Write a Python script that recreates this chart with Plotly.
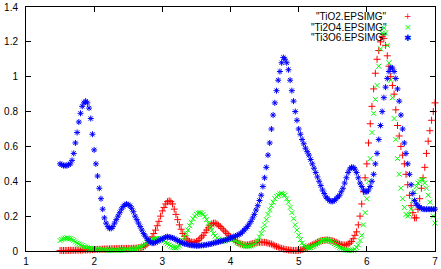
import numpy as np
import plotly.graph_objects as go

# energy grid (eV), step 0.025 from 1.5 to 7.0
x_start = 1.5
x_step = 0.025

tio2 = [
    0.003, 0.003, 0.003, 0.003, 0.003, 0.004, 0.004, 0.004, 0.004, 0.004,
    0.005, 0.005, 0.005, 0.005, 0.006, 0.006, 0.006, 0.007, 0.007, 0.008,
    0.008, 0.009, 0.009, 0.01, 0.01, 0.011, 0.011, 0.012, 0.012, 0.012,
    0.013, 0.013, 0.013, 0.014, 0.014, 0.014, 0.015, 0.015, 0.015, 0.015,
    0.015, 0.015, 0.015, 0.016, 0.016, 0.017, 0.018, 0.019, 0.02, 0.024,
    0.03, 0.04, 0.05, 0.065, 0.08, 0.10, 0.12, 0.145, 0.17, 0.20,
    0.23, 0.25, 0.27, 0.283, 0.288, 0.283, 0.27, 0.24, 0.21, 0.18,
    0.15, 0.125, 0.10, 0.085, 0.07, 0.062, 0.055, 0.052, 0.05, 0.05,
    0.055, 0.06, 0.07, 0.08, 0.09, 0.105, 0.12, 0.133, 0.145, 0.155,
    0.16, 0.16, 0.155, 0.148, 0.14, 0.13, 0.12, 0.11, 0.10, 0.09,
    0.08, 0.072, 0.065, 0.057, 0.05, 0.045, 0.04, 0.037, 0.035, 0.035,
    0.035, 0.037, 0.04, 0.042, 0.045, 0.047, 0.05, 0.05, 0.05, 0.05,
    0.05, 0.048, 0.045, 0.042, 0.04, 0.035, 0.03, 0.026, 0.022, 0.018,
    0.015, 0.012, 0.01, 0.008, 0.006, 0.005, 0.004, 0.003, 0.003, 0.003,
    0.004, 0.006, 0.008, 0.011, 0.015, 0.02, 0.025, 0.03, 0.035, 0.04,
    0.045, 0.05, 0.055, 0.058, 0.06, 0.062, 0.063, 0.063, 0.062, 0.06,
    0.058, 0.054, 0.05, 0.045, 0.04, 0.037, 0.035, 0.034, 0.035, 0.04,
    0.045, 0.055, 0.07, 0.09, 0.11, 0.15, 0.20, 0.27, 0.34, 0.42,
    0.50, 0.62, 0.73, 0.83, 0.93, 1.02, 1.10, 1.15, 1.20, 1.23,
    1.22, 1.18, 1.12, 1.06, 1.00, 0.95, 0.90, 0.81, 0.72, 0.66,
    0.60, 0.55, 0.50, 0.44, 0.38, 0.32, 0.26, 0.22, 0.19, 0.19,
    0.24, 0.30, 0.36, 0.42, 0.48, 0.56, 0.63, 0.69, 0.75, 0.80,
    0.85,
]

ti2o4 = [
    0.06, 0.066, 0.07, 0.073, 0.075, 0.074, 0.07, 0.066, 0.06, 0.052,
    0.045, 0.04, 0.035, 0.03, 0.025, 0.022, 0.02, 0.017, 0.015, 0.012,
    0.01, 0.01, 0.009, 0.009, 0.008, 0.007, 0.006, 0.006, 0.005, 0.005,
    0.005, 0.005, 0.005, 0.005, 0.005, 0.005, 0.005, 0.006, 0.006, 0.007,
    0.007, 0.008, 0.009, 0.01, 0.012, 0.015, 0.018, 0.022, 0.025, 0.032,
    0.04, 0.048, 0.055, 0.06, 0.065, 0.068, 0.07, 0.072, 0.072, 0.07,
    0.065, 0.058, 0.05, 0.042, 0.035, 0.028, 0.022, 0.019, 0.018, 0.022,
    0.03, 0.045, 0.06, 0.08, 0.10, 0.12, 0.145, 0.165, 0.185, 0.20,
    0.21, 0.218, 0.22, 0.218, 0.21, 0.197, 0.18, 0.16, 0.14, 0.12,
    0.10, 0.087, 0.075, 0.067, 0.06, 0.058, 0.058, 0.06, 0.063, 0.066,
    0.068, 0.068, 0.065, 0.058, 0.05, 0.045, 0.04, 0.035, 0.03, 0.028,
    0.027, 0.028, 0.03, 0.034, 0.04, 0.048, 0.06, 0.08, 0.10, 0.125,
    0.15, 0.18, 0.21, 0.235, 0.26, 0.28, 0.30, 0.312, 0.32, 0.327,
    0.33, 0.327, 0.32, 0.30, 0.28, 0.25, 0.22, 0.185, 0.15, 0.12,
    0.09, 0.065, 0.045, 0.032, 0.022, 0.018, 0.018, 0.02, 0.025, 0.03,
    0.035, 0.042, 0.05, 0.056, 0.06, 0.063, 0.065, 0.064, 0.06, 0.056,
    0.05, 0.043, 0.035, 0.028, 0.02, 0.015, 0.01, 0.007, 0.005, 0.004,
    0.003, 0.003, 0.005, 0.01, 0.02, 0.035, 0.06, 0.09, 0.15, 0.22,
    0.30, 0.40, 0.53, 0.68, 0.79, 0.87, 0.95, 1.06, 1.16, 1.25,
    1.28, 1.25, 1.18, 1.08, 0.98, 0.88, 0.76, 0.64, 0.53, 0.44,
    0.36, 0.30, 0.25, 0.21, 0.20, 0.21, 0.24, 0.29, 0.34, 0.37,
    0.39, 0.40, 0.41, 0.41, 0.39, 0.36, 0.32, 0.28, 0.24, 0.20,
    0.16,
]

ti3o6 = [
    0.50, 0.495, 0.49, 0.49, 0.49, 0.495, 0.50, 0.52, 0.56, 0.62,
    0.68, 0.74, 0.79, 0.83, 0.85, 0.86, 0.85, 0.82, 0.76, 0.67,
    0.58, 0.50, 0.43, 0.36, 0.30, 0.24, 0.19, 0.16, 0.14, 0.13,
    0.13, 0.14, 0.16, 0.18, 0.20, 0.22, 0.24, 0.255, 0.265, 0.27,
    0.265, 0.26, 0.245, 0.225, 0.20, 0.18, 0.16, 0.14, 0.12, 0.10,
    0.085, 0.07, 0.06, 0.05, 0.045, 0.045, 0.05, 0.055, 0.06, 0.065,
    0.07, 0.075, 0.08, 0.082, 0.08, 0.078, 0.075, 0.07, 0.065, 0.06,
    0.055, 0.05, 0.045, 0.042, 0.04, 0.037, 0.035, 0.033, 0.032, 0.031,
    0.03, 0.03, 0.031, 0.032, 0.033, 0.035, 0.036, 0.038, 0.04, 0.042,
    0.045, 0.047, 0.05, 0.052, 0.055, 0.057, 0.06, 0.063, 0.066, 0.07,
    0.075, 0.078, 0.082, 0.086, 0.09, 0.095, 0.10, 0.11, 0.12, 0.13,
    0.14, 0.155, 0.17, 0.19, 0.21, 0.235, 0.26, 0.29, 0.32, 0.37,
    0.42, 0.48, 0.55, 0.62, 0.70, 0.78, 0.85, 0.92, 0.98, 1.03,
    1.08, 1.11, 1.10, 1.08, 1.04, 0.98, 0.92, 0.86, 0.80, 0.75,
    0.70, 0.67, 0.64, 0.615, 0.59, 0.57, 0.55, 0.525, 0.50, 0.475,
    0.45, 0.425, 0.40, 0.375, 0.35, 0.33, 0.31, 0.30, 0.29, 0.285,
    0.285, 0.29, 0.30, 0.31, 0.32, 0.34, 0.36, 0.39, 0.42, 0.45,
    0.47, 0.48, 0.48, 0.47, 0.45, 0.42, 0.39, 0.37, 0.35, 0.34,
    0.34, 0.35, 0.37, 0.40, 0.44, 0.50, 0.56, 0.64, 0.72, 0.80,
    0.88, 0.94, 0.99, 1.03, 1.05, 1.05, 1.03, 0.99, 0.93, 0.86,
    0.78, 0.70, 0.62, 0.56, 0.50, 0.44, 0.38, 0.33, 0.29, 0.27,
    0.26, 0.25, 0.245, 0.24, 0.24, 0.24, 0.24, 0.24, 0.24, 0.24,
    0.24,
]

series_names = ['"TiO2.EPSIMG"', '"Ti2O4.EPSIMG"', '"Ti3O6.EPSIMG"']
x_ticks = [1, 2, 3, 4, 5, 6, 7]
y_ticks = [0, 0.2, 0.4, 0.6, 0.8, 1.0, 1.2, 1.4]

energy = np.round(x_start + x_step * np.arange(len(tio2)), 4)

colors = ["#ff0000", "#00ff00", "#0000ff"]
symbols = ["cross-thin-open", "x-thin-open", "asterisk-open"]
legend_glyphs = ["+", "×", "✱"]

fig = go.Figure()
for name, ys, c, s in zip(series_names, [tio2, ti2o4, ti3o6], colors, symbols):
    fig.add_trace(go.Scatter(
        x=energy, y=ys, mode="markers", name=name, cliponaxis=False,
        marker=dict(symbol=s, size=5, color=c, line=dict(color=c, width=1)),
    ))

font = dict(family="Liberation Sans, Arial, sans-serif", size=10, color="#000000")

axis_common = dict(
    showgrid=False, zeroline=False, showline=True, linecolor="#000000",
    linewidth=1, mirror="ticks", ticks="inside", ticklen=5, tickwidth=1,
    tickcolor="#000000", tickfont=font, automargin=False,
    ticklabeloverflow="allow",
)

fig.update_layout(
    template="none",
    width=441, height=269,
    margin=dict(l=26, r=6, t=7, b=18),
    paper_bgcolor="white", plot_bgcolor="white",
    showlegend=False,
    xaxis=dict(range=[1, 7], tickvals=x_ticks, ticklabelstandoff=1, **axis_common),
    yaxis=dict(range=[0, 1.4], tickvals=y_ticks, ticklabelstandoff=5, **axis_common),
)

legend_y = [0.963, 0.918, 0.873]
for name, c, g, yy in zip(series_names, colors, legend_glyphs, legend_y):
    fig.add_annotation(x=0.888, y=yy, xref="paper", yref="paper", text=name,
                       showarrow=False, xanchor="right", yanchor="middle", font=font)
    fig.add_annotation(x=0.934, y=yy, xref="paper", yref="paper", text=g,
                       showarrow=False, xanchor="center", yanchor="middle",
                       font=dict(family="DejaVu Sans", size=9, color=c))

fig.write_html("out.html", config={"displayModeBar": False},
               post_script="document.body.style.margin='0';")
